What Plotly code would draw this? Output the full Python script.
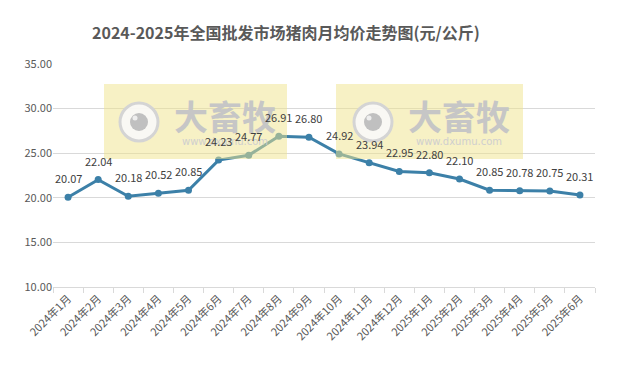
import plotly.graph_objects as go

months = ["2024年1月", "2024年2月", "2024年3月", "2024年4月", "2024年5月", "2024年6月",
          "2024年7月", "2024年8月", "2024年9月", "2024年10月", "2024年11月", "2024年12月",
          "2025年1月", "2025年2月", "2025年3月", "2025年4月", "2025年5月", "2025年6月"]
prices = [20.07, 22.04, 20.18, 20.52, 20.85, 24.23, 24.77, 26.91, 26.80, 24.92,
          23.94, 22.95, 22.80, 22.10, 20.85, 20.78, 20.75, 20.31]
y_ticks = [10, 15, 20, 25, 30, 35]

FONT = "Noto Sans CJK SC"
L, R, T, B = 53, 25, 64, 78
W, H = 620, 365
PW, PH = W - L - R, H - T - B

def px(x):
    return (x - L) / PW

def py(y):
    return (H - B - y) / PH

fig = go.Figure()
fig.add_trace(go.Scatter(
    x=months, y=prices, mode="lines+markers",
    line=dict(color="#3c80a8", width=3),
    marker=dict(color="#3c80a8", size=7),
    cliponaxis=False, hoverinfo="x+y",
))

shapes = []
annotations = []
for bx0, bx1, ccx in [(104, 287, 139), (336, 523, 373)]:
    shapes.append(dict(type="rect", xref="paper", yref="paper",
                       x0=px(bx0), x1=px(bx1), y0=py(159), y1=py(84),
                       fillcolor="rgba(240,228,140,0.5)", line=dict(width=0), layer="above"))
    cx, cy = ccx, 122
    r = 19
    shapes.append(dict(type="circle", xref="paper", yref="paper",
                       x0=px(cx - r), x1=px(cx + r), y0=py(cy + r), y1=py(cy - r),
                       fillcolor="rgba(248,248,248,0.9)", line=dict(color="#d4d4d4", width=3),
                       layer="above"))
    r2 = 9
    shapes.append(dict(type="circle", xref="paper", yref="paper",
                       x0=px(cx - r2), x1=px(cx + r2), y0=py(cy + r2), y1=py(cy - r2),
                       fillcolor="#c0c0c0", line=dict(width=0), layer="above"))
    r3 = 2.5
    shapes.append(dict(type="circle", xref="paper", yref="paper",
                       x0=px(cx - 4 - r3), x1=px(cx - 4 + r3), y0=py(cy - 4 + r3), y1=py(cy - 4 - r3),
                       fillcolor="#eeeeee", line=dict(width=0), layer="above"))
    annotations.append(dict(text="<b>大畜牧</b>", xref="paper", yref="paper",
                            x=px(ccx + 86), y=py(115), showarrow=False,
                            font=dict(family=FONT, size=34, color="#c6c6c6"),
                            xanchor="center", yanchor="middle"))
    annotations.append(dict(text="www.dxumu.com", xref="paper", yref="paper",
                            x=px(ccx + 86), y=py(141), showarrow=False,
                            font=dict(family="DejaVu Sans", size=10, color="#cfcfcf"),
                            xanchor="center", yanchor="middle"))

for m, v in zip(months, prices):
    annotations.append(dict(text=f"{v:.2f}", x=m, y=v, xref="x", yref="y",
                            showarrow=False, yshift=9, xanchor="center", yanchor="bottom",
                            font=dict(family=FONT, size=11, color="#404040")))

annotations.append(dict(text="<b>2024-2025年全国批发市场猪肉月均价走势图(元/公斤)</b>",
                        xref="paper", yref="paper", x=px(286), y=py(32),
                        showarrow=False, xanchor="center", yanchor="middle",
                        font=dict(family=FONT, size=16, color="#595959")))

fig.update_layout(
    width=W, height=H,
    margin=dict(l=L, r=R, t=T, b=B, autoexpand=False),
    paper_bgcolor="white", plot_bgcolor="white",
    showlegend=False,
    shapes=shapes, annotations=annotations,
    font=dict(family=FONT, color="#595959", size=11),
)
fig.update_xaxes(
    type="category", range=[-0.5, len(months) - 0.5],
    tickangle=-45, tickson="boundaries", ticks="outside",
    ticklen=5, tickcolor="#d9d9d9", showline=True, linecolor="#d9d9d9",
    showgrid=False, automargin=False,
    tickfont=dict(family=FONT, size=11, color="#595959"),
)
fig.update_yaxes(
    range=[10, 35], tickvals=y_ticks, ticktext=[f"{v:.2f}" for v in y_ticks],
    showgrid=True, gridcolor="#d9d9d9", zeroline=False, showline=False,
    automargin=False,
    tickfont=dict(family=FONT, size=11, color="#595959"), ticks="",
)

fig.write_html("out.html")
